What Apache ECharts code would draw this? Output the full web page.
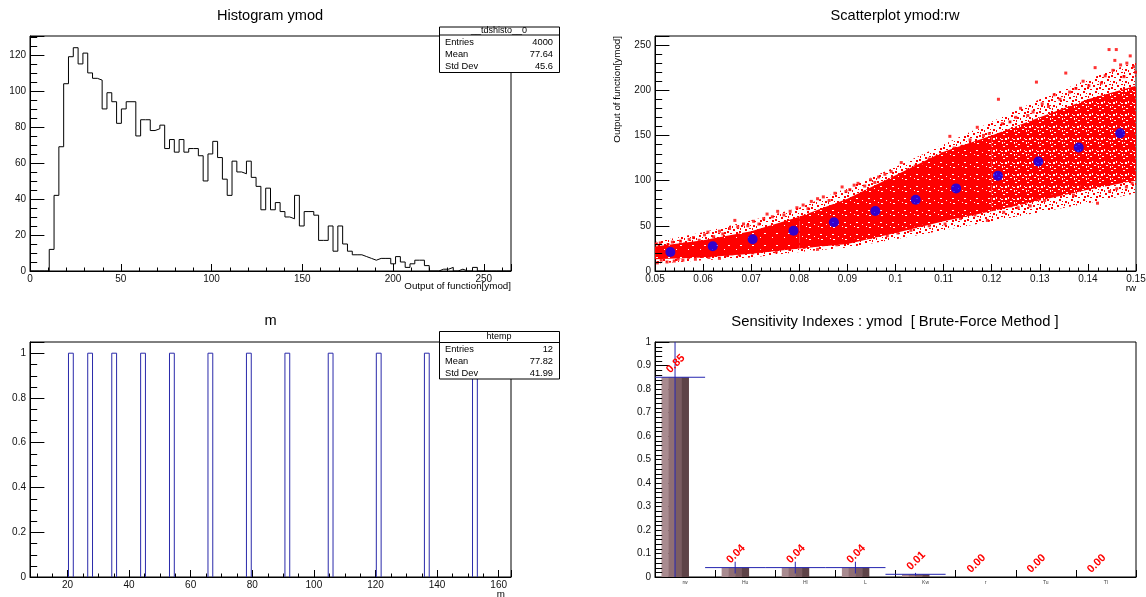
<!DOCTYPE html>
<html><head><meta charset="utf-8">
<script src="https://cdn.jsdelivr.net/npm/echarts@6/dist/echarts.min.js"></script>
<style>html,body{margin:0;padding:0;background:#fff}#c{width:1146px;height:597px}</style>
</head><body><div id="c"></div>
<script>
// ---------------- data ----------------
// Panel 1: histogram of ymod (100 bins over [0, 265])
const ymodRange = [0, 265];
const ymodCounts = [
  0,0,0,0,12,42,69,104,119,124,
  115,121,110,107,106,90,99,94,82,90,
  94,94,75,84,84,78,79,81,68,73,
  66,73,66,68,68,64,50,65,72,63,
  51,42,61,55,54,61,52,47,34,46,
  34,38,33,30,29,42,25,33,33,31,
  17,17,25,11,25,15,11,9,9,8,
  7,6,7,7,7,4,8,5,2,4,
  6,6,3,0,0,1,1,2,0,1,
  0,0,2,0,0,0,0,0,0,0
];
const ymodStats = ['__tdshisto__0', '4000', '77.64', '45.6'];

// Panel 2: scatter ymod vs rw — profile means (blue) and the red cloud
const rwProfileX = [0.0532,0.0620,0.0703,0.0788,0.0872,0.0958,0.1042,0.1126,0.1213,0.1297,0.1381,0.1467];
const rwProfileMean = [21.1,27.4,35.2,44.5,53.9,66.4,78.9,91.4,105.4,121.1,136.7,152.3];
// envelope of the dense part of the cloud, read at these rw values
const cloudX       = [0.05,0.06,0.07,0.08,0.09,0.10,0.11,0.12,0.13,0.14,0.15];
const cloudCoreLo  = [13,15,19,25,30,42,55,66,78,90,100];
const cloudCoreHi  = [27,34,44,60,80,106,132,150,170,190,205];
const cloudOuterLo = [8,12,15,21,26,35,45,55,65,75,86];
const cloudOuterHi = [32,43,56,70,92,115,140,165,190,212,232];
// individually visible points at the edges of the cloud
const cloudPoints = [
  [0.0503,30],[0.0511,31],[0.0518,26],[0.0527,29],[0.0536,32],[0.0546,27],[0.0553,33],[0.0562,30],[0.0571,35],[0.058,37],
  [0.0592,34],[0.0603,40],[0.061,43],[0.0622,38],[0.0634,44],[0.0641,41],[0.0655,47],[0.0666,56],[0.0672,49],[0.0684,52],
  [0.0693,50],[0.0705,55],[0.0716,52],[0.0726,58],[0.0733,63],[0.0744,60],
  [0.0505,9],[0.0513,12],[0.0525,10],[0.054,11],[0.0548,13],[0.0558,12],[0.057,15],[0.0584,13],[0.0598,16],[0.0612,15],
  [0.0625,18],[0.0634,14],[0.0648,17],[0.066,19],[0.0675,18],[0.069,21],[0.0703,20],[0.072,22],
  [0.0755,66],[0.0768,62],[0.0781,66],[0.0795,70],[0.0808,73],[0.0818,69],[0.0825,77],[0.0838,80],[0.085,82],[0.0862,78],
  [0.0874,86],[0.0889,93],[0.0897,88],[0.0905,90],[0.0914,95],[0.0922,97],[0.0936,94],[0.0948,101],[0.0957,98],[0.0965,104],
  [0.0978,107],[0.0991,110],
  [0.0738,23],[0.0752,21],[0.0767,25],[0.078,24],[0.0795,27],[0.081,26],[0.0825,28],[0.0838,24],[0.0852,30],[0.0866,31],
  [0.0878,29],[0.0892,33],[0.0913,35],[0.093,36],[0.0948,37],[0.0965,40],[0.0983,39],[0.0998,44],
  [0.1012,120],[0.1025,112],[0.1041,116],[0.1058,118],[0.107,124],[0.1085,126],[0.1098,130],[0.1113,149],[0.1122,136],[0.1138,138],
  [0.1155,145],[0.117,159],[0.1183,150],[0.1195,152],[0.1214,190],[0.1222,163],[0.1238,165],[0.125,170],[0.126,180],[0.1275,172],
  [0.1286,176],[0.1293,209],[0.1305,185],[0.1318,182],[0.133,195],[0.1342,190],[0.1354,219],[0.1362,198],[0.1375,202],[0.139,210],
  [0.1402,205],[0.1415,225],[0.1428,208],[0.1436,216],[0.1444,245],[0.1452,222],[0.1456,233],[0.1459,245],[0.1468,228],[0.1475,215],
  [0.1481,230],[0.1488,238],[0.1495,226],[0.1499,220],
  [0.1005,42],[0.1018,47],[0.1032,45],[0.1042,49],[0.1057,51],[0.107,50],[0.1088,56],[0.1103,52],[0.1118,60],[0.1135,58],
  [0.115,63],[0.1165,62],[0.1178,66],[0.1191,56],[0.1205,68],[0.1225,65],[0.124,72],[0.1255,70],[0.127,76],[0.128,72],
  [0.1295,80],[0.131,78],[0.1325,84],[0.1343,88],[0.1358,90],[0.137,84],[0.1385,94],[0.14,92],[0.142,75],[0.1432,98],
  [0.1445,88],[0.146,91],[0.1472,100],[0.148,93],[0.1492,97]
];

// Panel 3: histogram "m" of the profile means (100 bins)
const mRange = [7.84, 164.0];
const mBins = 100;
const mStats = ['htemp', '12', '77.82', '41.99'];

// Panel 4: sensitivity indexes
const sensNames  = ['rw','Hu','Hl','L','Kw','r','Tu','Tl'];
const sensValues = [0.85,0.04,0.04,0.04,0.0115,0,0,0];
const sensErrors = [0.9,0.025,0.025,0.025,0.006,0,0,0];

// ---------------- chart ----------------
const FONT = '"Liberation Sans", Arial, Helvetica, sans-serif';
const onStep = (v, s) => { const r = v / s; return Math.abs(r - Math.round(r)) < 1e-6; };
const fmtNum = v => String(parseFloat(v.toFixed(6)));

function majorAxis(gridIndex, min, max, step, tickLen, margin, pos) {
  return {
    type: 'value', gridIndex, min, max, position: pos,
    minInterval: step, maxInterval: step, splitNumber: Math.max(1, Math.round((max - min) / step)),
    axisLine: { show: true, onZero: false, lineStyle: { color: '#000', width: 1 } },
    axisTick: { show: true, inside: true, length: tickLen, lineStyle: { color: '#000', width: 1 } },
    minorTick: { show: false },
    axisLabel: { show: true, margin, fontSize: 10, fontFamily: FONT, color: '#111',
      formatter: v => onStep(v, step) ? fmtNum(v) : '' },
    splitLine: { show: false }, minorSplitLine: { show: false }
  };
}

const gridBox = (left, top) => ({ left, top, width: 481, height: 235, show: true,
  borderColor: '#000', borderWidth: 1, backgroundColor: 'transparent', containLabel: false, outerBoundsMode: 'none' });

// histogram outline for panel 1
const ymodW = (ymodRange[1] - ymodRange[0]) / ymodCounts.length;
const ymodLine = [];
ymodCounts.forEach((c, i) => {
  ymodLine.push([ymodRange[0] + i * ymodW, c]);
  ymodLine.push([ymodRange[0] + (i + 1) * ymodW, c]);
});

// histogram of means for panel 3
const mW = (mRange[1] - mRange[0]) / mBins;
const mCounts = new Array(mBins).fill(0);
rwProfileMean.forEach(v => { const k = Math.floor((v - mRange[0]) / mW); if (k >= 0 && k < mBins) mCounts[k]++; });
const mBars = [];
mCounts.forEach((c, k) => { if (c > 0) mBars.push([mRange[0] + k * mW, mRange[0] + (k + 1) * mW, c]); });

const xAxis = [
  majorAxis(0, ymodRange[0], ymodRange[1], 50, 7, 3, 'bottom'),
  majorAxis(1, 0.05, 0.15, 0.01, 7, 3, 'bottom'),
  majorAxis(2, mRange[0], mRange[1], 20, 7, 3, 'bottom'),
  { type: 'category', gridIndex: 3, data: sensNames, position: 'bottom', boundaryGap: true,
    axisLine: { show: true, onZero: false, lineStyle: { color: '#000' } },
    axisTick: { show: true, inside: true, length: 7, alignWithLabel: false, lineStyle: { color: '#000' } },
    axisLabel: { show: true, fontSize: 5, fontFamily: FONT, color: '#444', margin: 3, interval: 0 },
    splitLine: { show: false } }
];
const yAxis = [
  majorAxis(0, 0, 130.5, 20, 14.4, 4, 'left'),
  majorAxis(1, 0, 260, 50, 14.4, 4, 'left'),
  majorAxis(2, 0, 1.05, 0.2, 14.4, 4, 'left'),
  majorAxis(3, 0, 1, 0.1, 14.4, 4, 'left')
];

// minor tick values between the labelled ticks (ROOT-style secondary divisions)
function minorValues(min, max, minor, major) {
  const out = [], ratio = Math.round(major / minor);
  for (let k = Math.ceil(min / minor - 1e-9); k <= Math.floor(max / minor + 1e-9); k++) {
    if (k % ratio !== 0) out.push(+(k * minor).toFixed(6));
  }
  return out;
}
// y-direction minor ticks: items [xAnchor, value]
function yMinorSeries(idx, xAnchor, spec) {
  return { type: 'custom', xAxisIndex: idx, yAxisIndex: idx, clip: false, silent: true, z: 6,
    data: minorValues(spec[0], spec[1], spec[2], spec[3]).map(v => [xAnchor, v]),
    renderItem: (params, api) => {
      const cs = params.coordSys;
      const y = Math.round(api.coord([api.value(0), api.value(1)])[1]) + 0.5;
      return { type: 'line', shape: { x1: cs.x, y1: y, x2: cs.x + 7.2, y2: y }, style: { stroke: '#000', lineWidth: 1 } };
    } };
}
// x-direction minor ticks: items [value, yAnchor]
function xMinorSeries(idx, yAnchor, spec) {
  return { type: 'custom', xAxisIndex: idx, yAxisIndex: idx, clip: false, silent: true, z: 6,
    data: minorValues(spec[0], spec[1], spec[2], spec[3]).map(v => [v, yAnchor]),
    renderItem: (params, api) => {
      const cs = params.coordSys;
      const x = Math.round(api.coord([api.value(0), api.value(1)])[0]) + 0.5;
      const yb = cs.y + cs.height;
      return { type: 'line', shape: { x1: x, y1: yb, x2: x, y2: yb - 3.5 }, style: { stroke: '#000', lineWidth: 1 } };
    } };
}

// speckle textures (style only) for the cloud: denser on the left, sparser to the right, fringe
function makeTile(size, solid, rects) {
  const c = document.createElement('canvas'); c.width = c.height = size;
  const g = c.getContext('2d');
  g.fillStyle = '#ff0000';
  if (solid) { g.fillRect(0, 0, size, size); rects.forEach(r => g.clearRect(r[0], r[1], r[2], r[3])); }
  else rects.forEach(r => g.fillRect(r[0], r[1], r[2], r[3]));
  return c;
}
const denseTile = makeTile(12, true, [[2,2,1,1],[8,5,2,1],[4,9,1,1],[10,10,1,1],[6,0,1,1]]);
const mediumTile = makeTile(12, true, [[1,1,2,1],[7,3,1,2],[4,6,2,1],[10,8,1,2],[2,10,1,1],[8,0,1,1],[5,11,2,1]]);
const coreTile = makeTile(12, true, [[1,1,2,2],[7,2,2,1],[4,5,1,2],[9,6,2,2],[2,9,2,1],[6,10,1,2],[10,0,2,1],[0,5,1,2],[5,7,2,1],[8,10,1,1]]);
const fringeTile = makeTile(12, false, [[1,1,2,2],[7,3,2,2],[3,7,2,2],[9,9,2,2],[5,0,2,1],[0,10,1,2],[10,5,2,1],[4,4,2,2],[8,0,1,2],[6,9,1,1]]);

function cloudPoly(api, lo, hi, i0, i1) {
  const pts = [];
  for (let i = i0; i <= i1; i++) pts.push(api.coord([cloudX[i], hi[i]]));
  for (let i = i1; i >= i0; i--) pts.push(api.coord([cloudX[i], lo[i]]));
  return pts;
}

const series = [
  { type: 'line', xAxisIndex: 0, yAxisIndex: 0, data: ymodLine, symbol: 'none', showSymbol: false,
    lineStyle: { color: '#000', width: 1 }, clip: true, z: 4, silent: true },
  { type: 'custom', xAxisIndex: 1, yAxisIndex: 1, data: [[0.1, 100]], clip: true, silent: true, z: 2,
    renderItem: (params, api) => {
      const n = cloudX.length - 1;
      const seg = (i0, i1, tile) => ({ type: 'polygon', shape: { points: cloudPoly(api, cloudCoreLo, cloudCoreHi, i0, i1) },
        style: { fill: { image: tile, repeat: 'repeat' } } });
      return {
        type: 'group', children: [
          { type: 'polygon', shape: { points: cloudPoly(api, cloudOuterLo, cloudOuterHi, 0, n) },
            style: { fill: { image: fringeTile, repeat: 'repeat' } } },
          seg(0, 3, denseTile), seg(3, 7, mediumTile), seg(7, n, coreTile)
        ]
      };
    } },
  { type: 'scatter', xAxisIndex: 1, yAxisIndex: 1, data: cloudPoints, symbol: 'rect', symbolSize: 3,
    itemStyle: { color: '#ff0000' }, z: 3, silent: true },
  { type: 'scatter', xAxisIndex: 1, yAxisIndex: 1, data: rwProfileX.map((x, i) => [x, rwProfileMean[i]]),
    symbol: 'circle', symbolSize: 10, itemStyle: { color: '#0000ff' }, z: 5, silent: true },
  { type: 'custom', xAxisIndex: 2, yAxisIndex: 2, data: mBars, clip: true, silent: true, z: 4,
    encode: { x: [0, 1], y: 2 },
    renderItem: (params, api) => {
      const a = api.coord([api.value(0), 0]), b = api.coord([api.value(0), api.value(2)]);
      const c = api.coord([api.value(1), api.value(2)]), d = api.coord([api.value(1), 0]);
      return { type: 'polyline', shape: { points: [a, b, c, d] }, style: { stroke: '#2a2aaa', lineWidth: 1, fill: null } };
    } },
  { type: 'custom', xAxisIndex: 3, yAxisIndex: 3, clip: true, silent: true, z: 4,
    data: sensNames.map((n, i) => [i, sensValues[i], sensErrors[i]]),
    encode: { x: 0, y: 1 },
    renderItem: (params, api) => {
      const i = api.value(0), v = api.value(1), e = api.value(2);
      const bw = api.size([1, 0])[0];
      const top = api.coord([i, v]), base = api.coord([i, 0]);
      const xc = top[0] - bw * 0.5 + bw / 3;
      const W = bw * 0.45, left = xc - W / 2;
      const cols = ['#a98b90', '#8f6e74', '#7b5c61', '#5e4347'];
      const ch = [];
      if (v > 0) {
        cols.forEach((col, s) => ch.push({ type: 'rect',
          shape: { x: left + W * s / 4, y: top[1], width: W / 4 + 0.4, height: base[1] - top[1] }, style: { fill: col } }));
        const ehi = api.coord([i, v + e]), elo = api.coord([i, Math.max(0, v - e)]);
        ch.push({ type: 'line', shape: { x1: xc, y1: ehi[1], x2: xc, y2: elo[1] }, style: { stroke: '#2424b0', lineWidth: 1 } });
        ch.push({ type: 'line', shape: { x1: xc - bw / 2, y1: top[1], x2: xc + bw / 2, y2: top[1] }, style: { stroke: '#2424b0', lineWidth: 1 } });
      }
      ch.push({ type: 'text', x: xc - 3, y: top[1] - 2, rotation: Math.PI / 4,
        style: { text: v.toFixed(2), fill: '#ff0000', font: 'bold 11px ' + FONT, align: 'left', verticalAlign: 'bottom' } });
      return { type: 'group', children: ch };
    } },
  xMinorSeries(0, 0, [ymodRange[0], ymodRange[1], 10, 50]),
  yMinorSeries(0, 0, [0, 130.5, 5, 20]),
  xMinorSeries(1, 0, [0.05, 0.15, 0.002, 0.01]),
  yMinorSeries(1, 0.05, [0, 260, 10, 50]),
  xMinorSeries(2, 0, [mRange[0], mRange[1], 5, 20]),
  yMinorSeries(2, 10, [0, 1.05, 0.05, 0.2]),
  yMinorSeries(3, 0, [0, 1, 0.02, 0.1])
];

function txt(x, y, text, size, align, extra) {
  return Object.assign({ type: 'text', x, y, z: 100,
    style: { text, font: size + 'px ' + FONT, fill: '#000', align: align, verticalAlign: 'middle' } }, extra || {});
}
function statsBox(x, y, w, h, sepY, rowsY, stats) {
  const els = [
    { type: 'rect', z: 99, shape: { x: x + 0.5, y: y + 0.5, width: w, height: h }, style: { fill: '#fff', stroke: '#000', lineWidth: 1 } },
    { type: 'line', z: 100, shape: { x1: x + 0.5, y1: sepY + 0.5, x2: x + w + 0.5, y2: sepY + 0.5 }, style: { stroke: '#000', lineWidth: 1 } },
    txt(x + w / 2, (y + sepY) / 2 + 0.5, stats[0], 9, 'center')
  ];
  const labels = ['Entries', 'Mean', 'Std Dev'];
  labels.forEach((l, k) => {
    els.push(txt(x + 6, rowsY[k], l, 9.3, 'left'));
    els.push(txt(x + w - 6, rowsY[k], stats[k + 1], 9.3, 'right'));
  });
  return els;
}

const graphic = [
  txt(270, 16, 'Histogram ymod', 14.6, 'center'),
  txt(895, 16, 'Scatterplot ymod:rw', 14.6, 'center'),
  txt(270.5, 321, 'm', 14.6, 'center'),
  txt(895, 322, 'Sensitivity Indexes : ymod  [ Brute-Force Method ]', 14.8, 'center'),
  txt(511, 286.5, 'Output of function[ymod]', 9.8, 'right'),
  txt(1136, 288, 'rw', 9.8, 'right'),
  txt(505, 594, 'm', 9.8, 'right'),
  txt(617, 36, 'Output of function[ymod]', 9.8, 'right', { rotation: Math.PI / 2 }),
  ...statsBox(439, 26.5, 120, 45.5, 34.5, [42.3, 54.3, 66.3], ymodStats),
  ...statsBox(439, 331, 120, 47.5, 342, [349.3, 361.3, 373.3], mStats)
];

const chart = echarts.init(document.getElementById('c'), null, { renderer: 'canvas' });
chart.setOption({
  animation: false,
  backgroundColor: '#fff',
  textStyle: { fontFamily: FONT },
  grid: [gridBox(30, 36), gridBox(655, 36), gridBox(30, 342), gridBox(655, 342)],
  xAxis, yAxis, series, graphic
});
</script>
</body></html>
